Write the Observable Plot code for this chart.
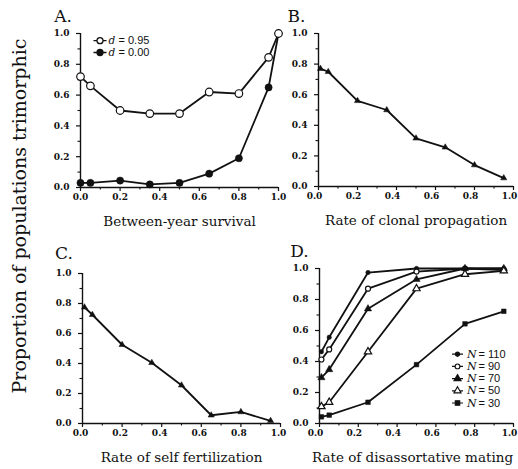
<!DOCTYPE html>
<html><head><meta charset="utf-8">
<script src="https://cdn.jsdelivr.net/npm/d3@7"></script>
<script src="https://cdn.jsdelivr.net/npm/@observablehq/plot@0.6"></script>
<style>
body{margin:0;background:#fff;}
#wrap{position:relative;width:518px;height:469px;overflow:hidden;background:#fff;}
.panel{position:absolute;}
#ytitle{position:absolute;left:19px;top:216px;transform:translate(-50%,-50%) rotate(-90deg);white-space:nowrap;font-family:'DejaVu Serif',serif;font-size:19px;color:#111;}
</style></head><body><div id="wrap"><div id="ytitle">Proportion of populations trimorphic</div></div>
<script>
// ---- data ----
const yMajor = [0, 0.2, 0.4, 0.6, 0.8, 1.0];
const yMinor = [0.1, 0.3, 0.5, 0.7, 0.9];
const xMajor = [0, 0.2, 0.4, 0.6, 0.8, 1.0];
const xMinor = [0.1, 0.3, 0.5, 0.7, 0.9];

const xA = [0, 0.05, 0.2, 0.35, 0.5, 0.65, 0.8, 0.95, 1.0];
const aD095 = [0.72, 0.66, 0.50, 0.48, 0.48, 0.62, 0.61, 0.845, 1.0];
const aD000 = [0.03, 0.03, 0.045, 0.02, 0.03, 0.09, 0.19, 0.65, 1.0];

const xB = [0.01, 0.05, 0.2, 0.35, 0.5, 0.65, 0.8, 0.95];
const bVals = [0.77, 0.75, 0.56, 0.50, 0.315, 0.256, 0.14, 0.055];

const xC = [0.01, 0.05, 0.2, 0.35, 0.5, 0.65, 0.8, 0.95];
const cVals = [0.775, 0.725, 0.525, 0.405, 0.255, 0.055, 0.077, 0.018];

const xD = [0.01, 0.05, 0.25, 0.5, 0.75, 0.95];
const dN110 = [0.463, 0.556, 0.974, 1.0, 1.0, 1.0];
const dN90 = [0.413, 0.478, 0.87, 0.98, 1.0, 0.99];
const dN70 = [0.296, 0.348, 0.74, 0.93, 1.0, 1.0];
const dN50 = [0.109, 0.137, 0.463, 0.87, 0.963, 0.985];
const dN30 = [0.043, 0.054, 0.137, 0.38, 0.643, 0.724];

const legendA = ["= 0.95", "= 0.00"];
const legendD = ["= 110", "= 90", "= 70", "= 50", "= 30"];
const titles = ["Between-year survival", "Rate of clonal propagation", "Rate of self fertilization", "Rate of disassortative mating"];
const letters = ["A.", "B.", "C.", "D."];

// ---- helpers ----
const serif = "'DejaVu Serif', serif";
const sans = "'Liberation Sans', Arial, sans-serif";
const INK = "#111";

function legendSym(inner, half) {
  return {draw(ctx, size) {
    const r = Math.sqrt(size / Math.PI);
    ctx.moveTo(-half, 0); ctx.lineTo(-r * 0.9, 0);
    ctx.moveTo(r * 0.9, 0); ctx.lineTo(half, 0);
    inner.draw(ctx, size);
  }};
}

function frame(title, letter, ldx, ldy, xlabDx, titleDx) {
  return [
    Plot.axisY(yMajor, {tickSize: 4, tickPadding: 7, tickFormat: d3.format(".1f"), label: null,
      fontFamily: serif, fontWeight: "bold", fontSize: 9, strokeWidth: 1.2, stroke: INK, fill: INK}),
    Plot.axisY(yMinor, {tickSize: 2.5, tickFormat: () => "", label: null, strokeWidth: 1.1, stroke: INK}),
    Plot.axisX(xMajor, {tickSize: 4, tickFormat: () => "", label: null, strokeWidth: 1.2, stroke: INK}),
    Plot.axisX(xMajor, {tickSize: 0, tickPadding: 6, tickFormat: d3.format(".1f"), label: null, dx: xlabDx,
      fontFamily: serif, fontWeight: "bold", fontSize: 9, fill: INK}),
    Plot.axisX(xMinor, {tickSize: 2.5, tickFormat: () => "", label: null, strokeWidth: 1.1, stroke: INK}),
    Plot.ruleX([0], {y1: 0, y2: 1, strokeWidth: 1.4, stroke: INK}),
    Plot.ruleY([0], {x1: 0, x2: 1, strokeWidth: 1.4, stroke: INK}),
    Plot.text([title], {frameAnchor: "bottom", dx: titleDx, dy: 34, lineAnchor: "middle", fontFamily: serif, fontSize: 13.5, fill: INK}),
    Plot.text([letter], {frameAnchor: "top-left", dx: ldx, dy: ldy, lineAnchor: "middle", textAnchor: "middle",
      fontFamily: serif, fontSize: 17, fill: INK})
  ];
}

function series(ys, xs, symbol, r, open) {
  return [
    Plot.line(ys, {x: xs, y: ys, stroke: INK, strokeWidth: 1.8}),
    Plot.dot(ys, {x: xs, y: ys, symbol, r, fill: open ? "white" : INK, stroke: INK, strokeWidth: open ? 1.2 : 0.5})
  ];
}

function panel(left, top, width, height, margins, marks) {
  const svg = Plot.plot({
    width, height,
    marginLeft: margins[0], marginRight: margins[1], marginTop: margins[2], marginBottom: margins[3],
    x: {domain: [0, 1]}, y: {domain: [0, 1]},
    style: {background: "transparent", overflow: "visible"},
    marks
  });
  const div = document.createElement("div");
  div.className = "panel";
  div.style.left = left + "px"; div.style.top = top + "px";
  div.appendChild(svg);
  document.getElementById("wrap").appendChild(div);
}

// ---- Panel A ----
const legA = [];
[[aD095, true], [aD000, false]].forEach(([_, open], i) => {
  const dy = 7.2 + 11.8 * i;
  legA.push(Plot.dot([0], {frameAnchor: "top-left", dx: 19.5, dy, symbol: legendSym(d3.symbolCircle, 6.5), r: 3,
    fill: open ? "white" : INK, stroke: INK, strokeWidth: 1.3}));
  legA.push(Plot.text(["d"], {frameAnchor: "top-left", dx: 28, dy, lineAnchor: "middle", textAnchor: "start",
    fontFamily: serif, fontStyle: "italic", fontSize: 10.5, fill: INK}));
  legA.push(Plot.text([legendA[i]], {frameAnchor: "top-left", dx: 38, dy, lineAnchor: "middle", textAnchor: "start",
    fontFamily: sans, fontSize: 11, fill: INK}));
});
panel(0, 0, 290, 232, [80, 12, 33, 45], [
  ...frame(titles[0], letters[0], -17.5, -17, 0, 0),
  ...series(aD000, xA, "circle", 3.6, false),
  ...series(aD095, xA, "circle", 3.8, true),
  ...legA
]);

// ---- Panel B ----
panel(290, 0, 228, 232, [28, 5, 33, 46], [
  ...frame(titles[1], letters[1], -22, -17, -4, 0),
  ...series(bVals, xB, "triangle", 2.3, false)
]);

// ---- Panel C ----
panel(0, 232, 290, 237, [82, 10, 41, 46], [
  ...frame(titles[2], letters[2], -18.5, -20, -2, 0),
  ...series(cVals, xC, "triangle", 2.3, false)
]);

// ---- Panel D ----
const dSeries = [
  [dN110, d3.symbolCircle, "circle", 2.2, false],
  [dN90, d3.symbolCircle, "circle", 2.5, true],
  [dN70, d3.symbolTriangle, "triangle", 2.7, false],
  [dN50, d3.symbolTriangle, "triangle", 2.7, true],
  [dN30, d3.symbolSquare, "square", 2.6, false]
];
const dMarks = [];
dSeries.forEach(([ys, sym, sname, r, open]) => dMarks.push(...series(ys, xD, sname, r, open)));
dSeries.forEach(([ys, sym, sname, r, open], i) => {
  const dy = 85.7 + 12.2 * i;
  dMarks.push(Plot.dot([0], {frameAnchor: "top-left", dx: 138, dy, symbol: legendSym(sym, 5.5), r: r * 0.95,
    fill: open ? "white" : INK, stroke: INK, strokeWidth: 1.2}));
  dMarks.push(Plot.text(["N"], {frameAnchor: "top-left", dx: 147.5, dy, lineAnchor: "middle", textAnchor: "start",
    fontFamily: serif, fontStyle: "italic", fontSize: 11, fill: INK}));
  dMarks.push(Plot.text([legendD[i]], {frameAnchor: "top-left", dx: 159, dy, lineAnchor: "middle", textAnchor: "start",
    fontFamily: sans, fontSize: 11, fill: INK}));
});
panel(290, 232, 228, 237, [29, 5, 36, 46], [
  ...frame(titles[3], letters[3], -20, -17, -4, -4),
  ...dMarks
]);
</script></body></html>
